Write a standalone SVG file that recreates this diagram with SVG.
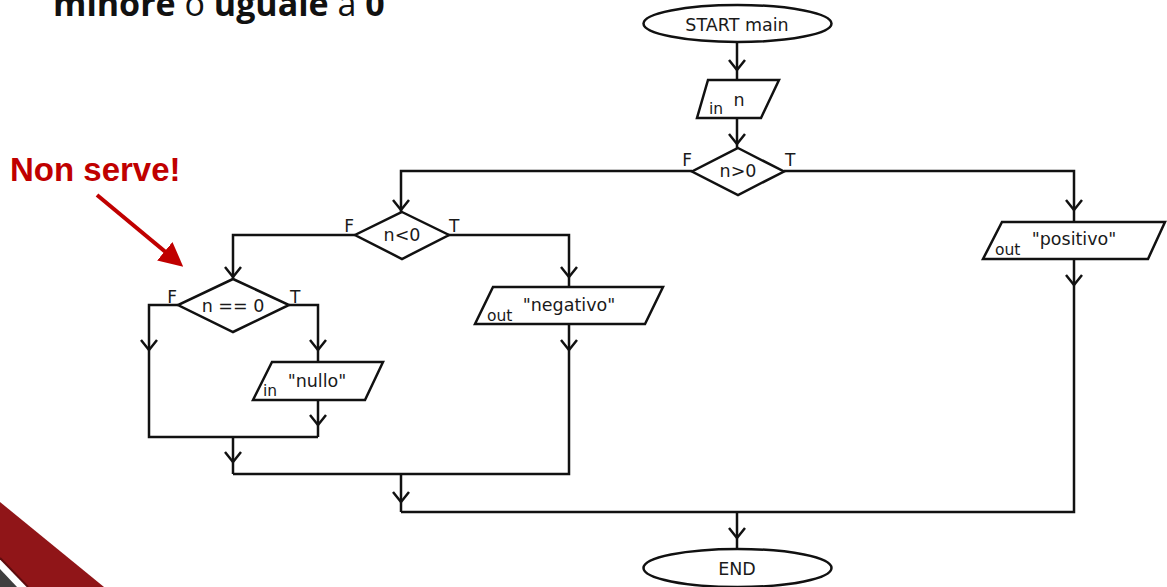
<svg xmlns="http://www.w3.org/2000/svg" width="1167" height="587" viewBox="0 0 1167 587">
<defs>
<style>
.ln{fill:none;stroke:#111;stroke-width:2.5}
.sh{fill:#fff;stroke:#111;stroke-width:2.5}
.t{font-family:"DejaVu Sans",sans-serif;font-size:17.5px;fill:#1a1a1a;text-anchor:middle}
.s{font-family:"DejaVu Sans",sans-serif;font-size:15.5px;fill:#1a1a1a}
.lb{font-family:"DejaVu Sans",sans-serif;font-size:17px;fill:#1a1a1a}
</style>
<path id="chev" d="M-8,-10 L0,0 L8,-10" class="ln"/>
<marker id="redhead" markerWidth="6" markerHeight="6" refX="3" refY="3" orient="auto" markerUnits="strokeWidth">
<path d="M0,0 L6,3 L0,6 Z" fill="#c00000"/>
</marker>
</defs>
<rect width="1167" height="587" fill="#fff"/>

<text x="53" y="16" font-family="'Open Sans',sans-serif" font-size="34" fill="#111"><tspan font-weight="bold">minore</tspan> o <tspan font-weight="bold">uguale</tspan> a <tspan font-weight="bold">0</tspan></text>

<g id="annotation">
<text x="10" y="181" font-family="'Liberation Sans',Arial,sans-serif" font-weight="bold" font-size="33" fill="#c00000">Non serve!</text>
<line x1="97" y1="195" x2="174" y2="259" stroke="#c00000" stroke-width="4" marker-end="url(#redhead)"/>
</g>

<g id="decor">
<polygon points="0,502 104,587 28,587 0,558" fill="#901518"/>
<line x1="0" y1="558" x2="28" y2="587" stroke="#5e0c0e" stroke-width="2"/>
<polygon points="0,569 17,587 0,587" fill="#3f3f3f"/>
</g>

<g id="connectors">
<path class="ln" d="M737,42 V80"/>
<path class="ln" d="M737,118 V148"/>
<path class="ln" d="M692,171 H401 V212"/>
<path class="ln" d="M784,171 H1074 V222"/>
<path class="ln" d="M355,235 H233 V279"/>
<path class="ln" d="M448,235 H569 V287"/>
<path class="ln" d="M178,305 H149 V437 H318"/>
<path class="ln" d="M289,305 H318 V362"/>
<path class="ln" d="M318,400 V437"/>
<path class="ln" d="M233,437 V474"/>
<path class="ln" d="M569,324 V474 H233"/>
<path class="ln" d="M401,474 V512"/>
<path class="ln" d="M1074,259 V512 H401"/>
<path class="ln" d="M737,512 V549"/>
<use href="#chev" x="737" y="70"/>
<use href="#chev" x="737" y="144"/>
<use href="#chev" x="401" y="210"/>
<use href="#chev" x="1074" y="210"/>
<use href="#chev" x="233" y="277"/>
<use href="#chev" x="569" y="277"/>
<use href="#chev" x="149" y="350"/>
<use href="#chev" x="318" y="350"/>
<use href="#chev" x="318" y="425"/>
<use href="#chev" x="233" y="462"/>
<use href="#chev" x="569" y="350"/>
<use href="#chev" x="1074" y="285"/>
<use href="#chev" x="401" y="502"/>
<use href="#chev" x="737" y="538"/>
<text class="lb" x="692" y="166" text-anchor="end">F</text>
<text class="lb" x="785" y="166">T</text>
<text class="lb" x="354" y="232" text-anchor="end">F</text>
<text class="lb" x="449" y="232">T</text>
<text class="lb" x="177" y="303" text-anchor="end">F</text>
<text class="lb" x="290" y="303">T</text>
</g>

<g id="start">
<ellipse class="sh" cx="737.5" cy="23.5" rx="94" ry="18.5"/>
<text class="t" x="737" y="31">START main</text>
</g>

<g id="input-n">
<polygon class="sh" points="708,80 779,80 761,118 697,118"/>
<text class="s" x="709" y="114">in</text>
<text class="t" x="739" y="106">n</text>
</g>

<g id="dec-gt0">
<polygon class="sh" points="738,148 784,171.5 738,195 692,171.5"/>
<text class="t" x="738" y="177">n&gt;0</text>
</g>

<g id="dec-lt0">
<polygon class="sh" points="402,212 449,235 402,259 355,235"/>
<text class="t" x="402" y="241">n&lt;0</text>
</g>

<g id="dec-eq0">
<polygon class="sh" points="233,279 289,305 233,332 178,305"/>
<text class="t" x="233" y="312">n == 0</text>
</g>

<g id="out-positivo">
<polygon class="sh" points="1002,222 1165,222 1148,259 983,259"/>
<text class="s" x="995" y="255">out</text>
<text class="t" x="1074" y="245">"positivo"</text>
</g>

<g id="out-negativo">
<polygon class="sh" points="493,287 663,287 645,324 475,324"/>
<text class="s" x="487" y="321">out</text>
<text class="t" x="569" y="311">"negativo"</text>
</g>

<g id="in-nullo">
<polygon class="sh" points="272,362 383,362 365,400 253,400"/>
<text class="s" x="263" y="396">in</text>
<text class="t" x="317" y="387">"nullo"</text>
</g>

<g id="end">
<ellipse class="sh" cx="737.5" cy="568" rx="94" ry="19"/>
<text class="t" x="737" y="575">END</text>
</g>
</svg>
